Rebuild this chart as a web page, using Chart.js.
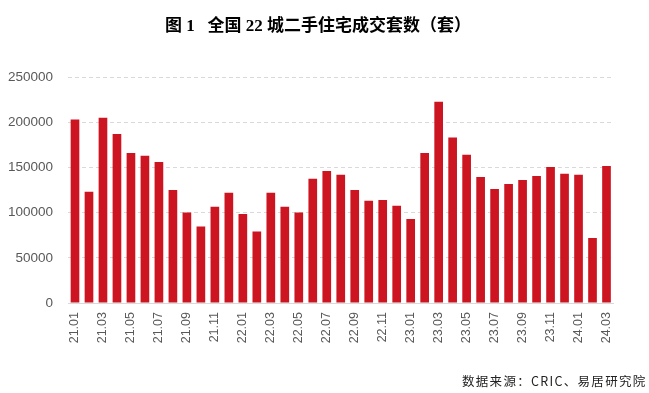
<!DOCTYPE html>
<html><head><meta charset="utf-8">
<script src="https://cdn.jsdelivr.net/npm/chart.js@4/dist/chart.umd.min.js"></script>
<style>
html,body{margin:0;padding:0;background:#fff;width:649px;height:393px;overflow:hidden;}
#wrap{position:relative;width:649px;height:393px;}
canvas{position:absolute;left:0;top:0;}
#title{position:absolute;left:165px;top:14px;font-family:"Liberation Serif","Noto Sans CJK SC",serif;font-weight:bold;font-size:17px;color:#000;white-space:pre;line-height:24px;}
#src{position:absolute;left:462px;top:372px;font-family:"Noto Sans CJK SC",sans-serif;font-size:12.5px;color:#222;white-space:pre;line-height:18px;letter-spacing:1.3px;}
</style></head>
<body><div id="wrap"><canvas id="c" width="649" height="393"></canvas>
<div id="title">图 1   全国 22 城二手住宅成交套数（套）</div>
<div id="src">数据来源：CRIC、易居研究院</div></div>
<script>
const categories = ["21.01","21.02","21.03","21.04","21.05","21.06","21.07","21.08","21.09","21.10","21.11","21.12",
"22.01","22.02","22.03","22.04","22.05","22.06","22.07","22.08","22.09","22.10","22.11","22.12",
"23.01","23.02","23.03","23.04","23.05","23.06","23.07","23.08","23.09","23.10","23.11","23.12",
"24.01","24.02","24.03"];
const volumes = [203000,123000,205000,187000,166000,163000,156000,125000,100000,84500,106500,122000,
98500,79000,122000,106500,100000,137500,146000,142000,125000,113000,114000,107500,
93000,166000,222500,183000,164000,139500,126000,131500,136000,140500,150500,143000,
142000,72000,151500];
const yTicks = [0,50000,100000,150000,200000,250000];

new Chart(document.getElementById('c'), {
  type: 'bar',
  data: { labels: categories, datasets: [{ data: volumes, backgroundColor: '#cc1520', barPercentage: 0.62, categoryPercentage: 1.0 }] },
  options: {
    responsive: false, animation: false,
    layout: { padding: { left: 0, right: 35.5, top: 77, bottom: 0 } },
    plugins: { legend: { display: false }, tooltip: { enabled: false } },
    scales: {
      x: {
        grid: { display: false, drawTicks: false },
        border: { display: true, color: '#d9d9d9', width: 1 },
        ticks: {
          autoSkip: false, maxRotation: 90, minRotation: 90, padding: 9,
          color: '#595959', font: { family: 'Liberation Sans', size: 12.5 },
          callback: function(v, i){ return i % 2 === 0 ? categories[i] : ''; }
        },
        afterFit: function(s){ s.height = 90; }
      },
      y: {
        min: 0, max: 250000,
        afterBuildTicks: function(s){ s.ticks = yTicks.map(v => ({value: v})); },
        grid: { color: '#d9d9d9', drawTicks: false },
        border: { display: false, dash: [4,3] },
        ticks: { padding: 15, color: '#595959', font: { family: 'Liberation Sans', size: 13.5 },
          callback: function(v){ return String(v); } },
        afterFit: function(s){ s.width = 68; }
      }
    }
  }
});
</script></body></html>
